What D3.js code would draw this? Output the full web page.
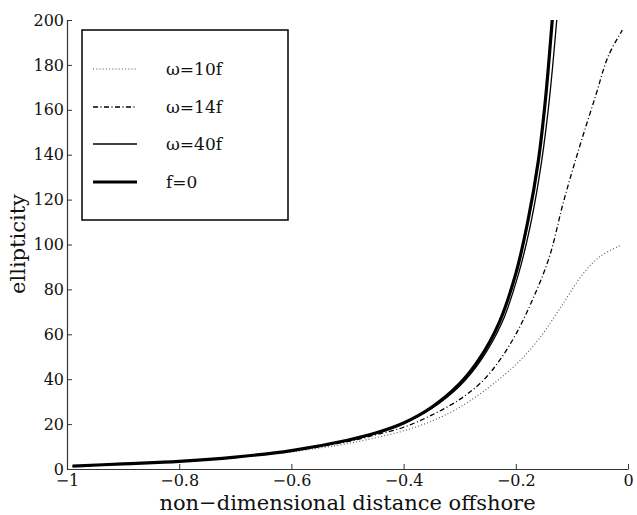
<!DOCTYPE html>
<html>
<head>
<meta charset="utf-8">
<script src="https://cdn.jsdelivr.net/npm/d3@7"></script>
<style>
  html, body { margin: 0; padding: 0; background: #fff; }
  svg { display: block; }
  text { font-family: "DejaVu Serif", serif; fill: #111; }
</style>
</head>
<body>
<svg id="chart" width="637" height="515"></svg>
<script>
// ---- data ----
const xTicks = [-1, -0.8, -0.6, -0.4, -0.2, 0];
const xTickLabels = ["\u22121", "\u22120.8", "\u22120.6", "\u22120.4", "\u22120.2", "0"];
const yTicks = [0, 20, 40, 60, 80, 100, 120, 140, 160, 180, 200];

const xF0 = [-0.99, -0.9, -0.8, -0.7, -0.6, -0.5, -0.45, -0.4, -0.35, -0.3, -0.265, -0.23, -0.2, -0.178, -0.16, -0.147, -0.135, -0.128];
const yF0 = [1.3, 2.3, 3.4, 5.3, 8.2, 12.8, 16.0, 20.5, 27.5, 38.0, 49.0, 65.0, 87.0, 111.0, 137.0, 165.0, 200, 222];

const x40 = [-0.99, -0.9, -0.8, -0.7, -0.6, -0.5, -0.45, -0.4, -0.35, -0.3, -0.262, -0.225, -0.195, -0.172, -0.154, -0.14, -0.127, -0.12];
const y40 = [1.3, 2.3, 3.4, 5.3, 8.2, 12.7, 15.9, 20.3, 27.0, 37.0, 48.5, 65.0, 87.0, 111.0, 137.0, 165.0, 200, 222];

const x14 = [-0.99, -0.9, -0.8, -0.7, -0.6, -0.5, -0.45, -0.4, -0.35, -0.3, -0.26, -0.23, -0.2, -0.17, -0.14, -0.115, -0.087, -0.058, -0.035, -0.01];
const y14 = [1.3, 2.3, 3.4, 5.2, 8.0, 12.2, 15.2, 18.6, 24.0, 31.0, 39.0, 48.0, 60.0, 75.5, 94.6, 119.0, 143.0, 166.0, 184.0, 195.5];

const x10 = [-0.99, -0.9, -0.8, -0.7, -0.6, -0.5, -0.45, -0.4, -0.35, -0.3, -0.25, -0.2, -0.16, -0.12, -0.08, -0.05, -0.012];
const y10 = [1.3, 2.3, 3.3, 5.0, 7.6, 11.3, 13.9, 17.0, 21.3, 27.5, 36.0, 46.5, 57.5, 72.0, 87.0, 94.6, 99.8];

const seriesNames = ["\u03c9=10f", "\u03c9=14f", "\u03c9=40f", "f=0"];

// ---- build ----
const svg = d3.select("#chart");
const margin = { left: 67, right: 9, top: 20, bottom: 46 };
const W = 637, H = 515;
const x = d3.scaleLinear().domain([-1, 0]).range([margin.left, W - margin.right]);
const y = d3.scaleLinear().domain([0, 200]).range([H - margin.bottom, margin.top]);

const styles = [
  { stroke: "#555", width: 1.1, dash: "1,2.2" },
  { stroke: "#000", width: 1.3, dash: "5,2.5,1,2.5" },
  { stroke: "#000", width: 1.3, dash: null },
  { stroke: "#000", width: 3.2, dash: null }
];
const series = [
  { xs: x10, ys: y10 },
  { xs: x14, ys: y14 },
  { xs: x40, ys: y40 },
  { xs: xF0, ys: yF0 }
];

svg.append("defs").append("clipPath").attr("id", "plotclip")
  .append("rect")
  .attr("x", x(-1)).attr("y", y(200))
  .attr("width", x(0) - x(-1) + 2).attr("height", y(0) - y(200));

const line = d3.line().x(d => x(d[0])).y(d => y(d[1])).curve(d3.curveCatmullRom.alpha(0.5));

const g = svg.append("g").attr("clip-path", "url(#plotclip)");
series.forEach((s, i) => {
  const pts = s.xs.map((v, k) => [v, s.ys[k]]);
  g.append("path")
    .attr("d", line(pts))
    .attr("fill", "none")
    .attr("stroke", styles[i].stroke)
    .attr("stroke-width", styles[i].width)
    .attr("stroke-dasharray", styles[i].dash)
    .attr("stroke-linejoin", "round");
});

// axes
const xAxis = d3.axisBottom(x).tickValues(xTicks)
  .tickFormat((d, i) => xTickLabels[i])
  .tickSizeInner(-5).tickSizeOuter(0).tickPadding(6);
const yAxis = d3.axisLeft(y).tickValues(yTicks)
  .tickSizeInner(-5).tickSizeOuter(0).tickPadding(3);

const gx = svg.append("g").attr("transform", `translate(0,${y(0)})`).call(xAxis);
const gy = svg.append("g").attr("transform", `translate(${x(-1)},0)`).call(yAxis);
[gx, gy].forEach(a => {
  a.select(".domain").attr("stroke", "#333").attr("stroke-width", 1.2);
  a.selectAll(".tick line").attr("stroke", "#333").attr("stroke-width", 1);
  a.selectAll(".tick text").attr("font-family", "DejaVu Serif").attr("font-size", 16).attr("fill", "#111");
});

// axis titles
svg.append("text")
  .attr("x", (x(-1) + x(0)) / 2).attr("y", 510)
  .attr("text-anchor", "middle").attr("font-size", 21)
  .text("non\u2212dimensional distance offshore");
svg.append("text")
  .attr("transform", `translate(25,${244}) rotate(-90)`)
  .attr("text-anchor", "middle").attr("font-size", 21)
  .text("ellipticity");

// legend
const lg = svg.append("g");
lg.append("rect").attr("x", 82).attr("y", 30).attr("width", 206).attr("height", 190)
  .attr("fill", "#fff").attr("stroke", "#000").attr("stroke-width", 1.5);
const legendY = [69, 107, 144, 182];
seriesNames.forEach((name, i) => {
  lg.append("line")
    .attr("x1", 93).attr("x2", 137).attr("y1", legendY[i]).attr("y2", legendY[i])
    .attr("stroke", styles[i].stroke)
    .attr("stroke-width", styles[i].width)
    .attr("stroke-dasharray", styles[i].dash);
  lg.append("text")
    .attr("x", 166).attr("y", legendY[i]).attr("dy", "0.38em")
    .attr("font-size", 17)
    .text(name);
});
</script>
</body>
</html>
